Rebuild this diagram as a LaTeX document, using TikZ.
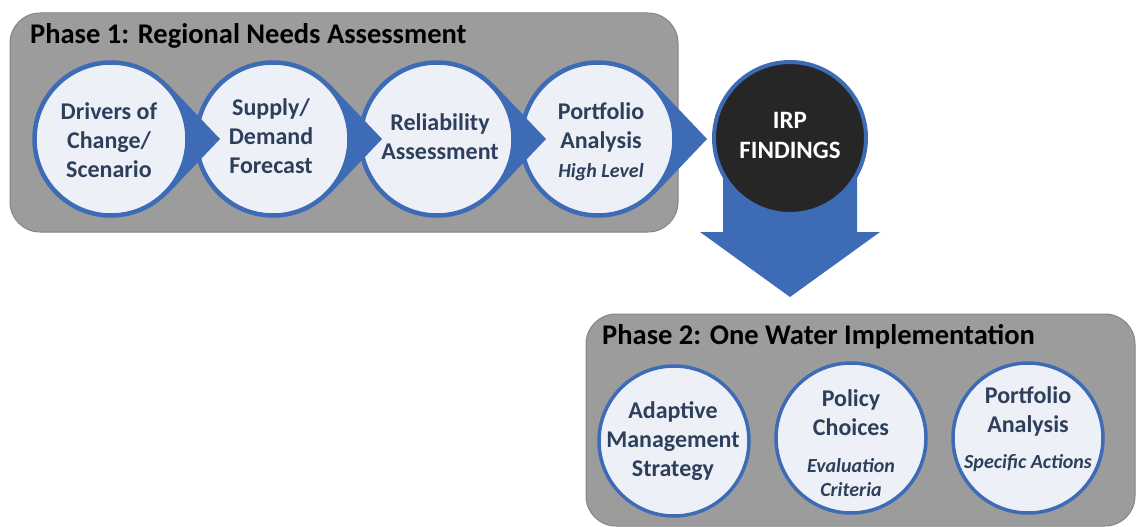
\documentclass[tikz,border=0pt]{standalone}
\usepackage{fontspec}
\setmainfont{Carlito}
\usetikzlibrary{calc}
\definecolor{ringblue}{HTML}{3D6BB6}
\definecolor{lightfill}{HTML}{EDF1F7}
\definecolor{navytext}{HTML}{2E3F5C}
\definecolor{boxgray}{HTML}{9C9C9C}
\definecolor{boxline}{HTML}{858585}
\definecolor{darkcirc}{HTML}{262626}
\tikzset{
  phasebox/.style={fill=boxgray, draw=boxline, line width=1pt, rounded corners=30pt},
  phasetitle/.style={anchor=base west, inner sep=0pt, text=black, font=\bfseries\fontsize{28.5}{34}\selectfont},
  ctext/.style={anchor=base, inner sep=0pt, align=center, text=navytext, font=\bfseries\fontsize{24}{29}\selectfont},
  bigring/.style={circle, fill=lightfill, draw=ringblue, line width=4.5pt, minimum size=153pt, inner sep=0pt},
  smallring/.style={circle, fill=lightfill, draw=ringblue, line width=3.5pt, minimum size=150pt, inner sep=0pt},
  irpring/.style={circle, fill=darkcirc, draw=ringblue, line width=4pt, minimum size=152pt, inner sep=0pt},
  tipfill/.style={fill=ringblue},
}
\newcommand{\subit}[1]{{\itshape\fontsize{20}{24}\selectfont #1}}
\begin{document}
\begin{tikzpicture}[x=1pt,y=-1pt]
\useasboundingbox (0,0) rectangle (1137,527);
% Phase 1 box
\draw[phasebox] (10,13) rectangle (678,232);
\node[phasetitle] (t1) at (30,44) {Phase 1: Regional Needs Assessment};
% Down arrow behind IRP circle
\fill[ringblue] (723,140) -- (857,140) -- (857,232) -- (880,232) -- (790,297) -- (700,232) -- (723,232) -- cycle;
\node[irpring] (irp) at (790,138) {};
\node[ctext, text=white, font=\bfseries\fontsize{25}{30}\selectfont] (irpt) at (790,158) {IRP\\FINDINGS};
% teardrops, right to left
\foreach \cx/\nm in {598/d, 437/c, 273/b, 111/a} {
  \fill[tipfill] (\cx+109,139) -- (\cx+56.8,139-54.9) -- (\cx,139) -- (\cx+56.8,139+54.9) -- cycle;
  \node[bigring] (\nm) at (\cx,139) {};
}
\node[ctext] (at) at (109,177) {Drivers of\\Change/\\Scenario};
\node[ctext] (bt) at (271,173) {Supply/\\Demand\\Forecast};
\node[ctext] (ct) at (440,159) {Reliability\\Assessment};
\node[ctext] (dt) at (601,177) {Portfolio\\Analysis\\\subit{High Level}};
% Phase 2 box
\draw[phasebox] (586,314) rectangle (1135,526);
\node[phasetitle] (t2) at (602,344) {Phase 2: One Water Implementation};
\node[smallring] (e) at (674,441) {};
\node[smallring] (f) at (851,438) {};
\node[smallring] (g) at (1028,438) {};
\node[ctext] (et) at (673,476) {Adaptive\\Management\\Strategy};
\node[ctext] (ft) at (851,496) {Policy\\Choices\\[8pt]\subit{Evaluation}\\[-5pt]\subit{Criteria}};
\node[ctext] (gt) at (1028,468) {Portfolio\\Analysis\\[7pt]\subit{Specific Actions}};
\end{tikzpicture}
\end{document}
